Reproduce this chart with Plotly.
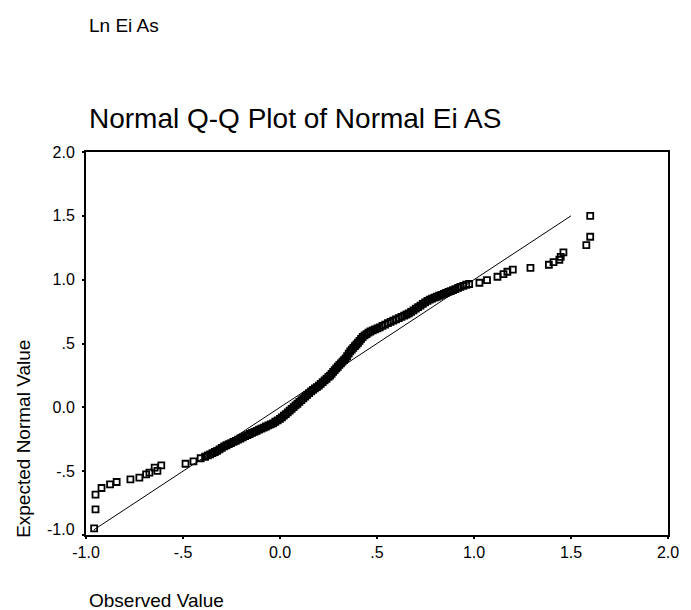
import plotly.graph_objects as go

obs_low = [-0.958, -0.951, -0.951, -0.920, -0.876, -0.842, -0.771, -0.725, -0.690, -0.673,
           -0.646, -0.632, -0.612, -0.487, -0.446, -0.409]
exp_low = [-0.948, -0.800, -0.684, -0.632, -0.603, -0.585, -0.564, -0.551, -0.525, -0.512,
           -0.473, -0.497, -0.454, -0.442, -0.423, -0.399]

obs_mid = [-0.386, -0.372, -0.360, -0.348, -0.336, -0.324, -0.312, -0.300, -0.288, -0.276,
           -0.264, -0.252, -0.240, -0.228, -0.216, -0.204, -0.192, -0.180, -0.168, -0.156,
           -0.144, -0.132, -0.120, -0.108, -0.096, -0.084, -0.072, -0.060, -0.048, -0.036,
           -0.024, -0.012,
           0.000, 0.010, 0.020, 0.030, 0.040, 0.050, 0.060, 0.070, 0.080, 0.090,
           0.100, 0.110, 0.120, 0.130, 0.140, 0.150, 0.160, 0.170, 0.180, 0.190,
           0.200, 0.210, 0.220, 0.230, 0.240, 0.250, 0.258, 0.266, 0.274, 0.282,
           0.290, 0.298, 0.306, 0.314, 0.322, 0.330, 0.338, 0.346, 0.354, 0.362,
           0.370, 0.378, 0.386, 0.394, 0.402, 0.410, 0.418, 0.426, 0.436, 0.446,
           0.456, 0.466, 0.478, 0.490, 0.502, 0.514, 0.528, 0.542, 0.556, 0.570,
           0.584, 0.598, 0.612, 0.626, 0.640, 0.652, 0.664, 0.676, 0.688, 0.700,
           0.712, 0.724, 0.736, 0.748, 0.760, 0.772, 0.784, 0.796, 0.808, 0.820,
           0.832, 0.844, 0.856, 0.868, 0.880, 0.892, 0.904, 0.918, 0.930, 0.945,
           0.960, 0.975]
exp_mid = [-0.387, -0.377, -0.368, -0.358, -0.350, -0.341, -0.330, -0.318, -0.306, -0.297,
           -0.288, -0.280, -0.271, -0.262, -0.253, -0.244, -0.235, -0.226, -0.217, -0.209,
           -0.200, -0.192, -0.184, -0.175, -0.167, -0.159, -0.150, -0.142, -0.134, -0.125,
           -0.113, -0.102,
           -0.090, -0.078, -0.065, -0.053, -0.040, -0.026, -0.012, 0.001, 0.015, 0.028,
           0.042, 0.056, 0.070, 0.084, 0.098, 0.111, 0.125, 0.136, 0.148, 0.159,
           0.170, 0.184, 0.197, 0.211, 0.224, 0.238, 0.248, 0.262, 0.277, 0.291,
           0.305, 0.318, 0.332, 0.345, 0.358, 0.370, 0.383, 0.400, 0.420, 0.438,
           0.452, 0.466, 0.479, 0.492, 0.506, 0.521, 0.536, 0.551, 0.563, 0.574,
           0.585, 0.594, 0.603, 0.611, 0.619, 0.627, 0.638, 0.648, 0.659, 0.669,
           0.679, 0.689, 0.699, 0.709, 0.718, 0.727, 0.736, 0.748, 0.760, 0.773,
           0.785, 0.797, 0.810, 0.822, 0.834, 0.844, 0.851, 0.859, 0.866, 0.874,
           0.881, 0.889, 0.896, 0.904, 0.911, 0.918, 0.926, 0.935, 0.943, 0.952,
           0.960, 0.966]

obs_high = [1.028, 1.067, 1.121, 1.152, 1.172, 1.200, 1.291, 1.386, 1.410, 1.440,
            1.447, 1.461, 1.579, 1.599, 1.599]
exp_high = [0.976, 0.997, 1.023, 1.044, 1.062, 1.078, 1.093, 1.117, 1.138, 1.156,
            1.179, 1.214, 1.271, 1.336, 1.500]

ref_line_x = [-0.96, 1.5]
ref_line_y = [-0.96, 1.5]

tick_vals = [-1.0, -0.5, 0.0, 0.5, 1.0, 1.5, 2.0]
x_tick_text = ["-1.0", "-.5", "0.0", ".5", "1.0", "1.5", "2.0"]
y_tick_text = ["", "-.5", "0.0", ".5", "1.0", "1.5", "2.0"]

FONT = "Liberation Sans, Arial, sans-serif"

obs = obs_low + obs_mid + obs_high
exp = exp_low + exp_mid + exp_high

fig = go.Figure()
fig.add_trace(go.Scatter(
    x=ref_line_x, y=ref_line_y, mode="lines",
    line=dict(color="black", width=1), showlegend=False, hoverinfo="skip"))
fig.add_trace(go.Scatter(
    x=obs, y=exp, mode="markers",
    marker=dict(symbol="square-open", size=6, color="black",
                line=dict(color="black", width=1.8)),
    showlegend=False))

W, H = 691, 610
L, R, T, B = 86, 676, 152, 535

def px_to_paper(px, py):
    return (px - L) / (R - L), (B - py) / (B - T)

annots = []
tx, ty = px_to_paper(87, 119)
annots.append(dict(text="Normal Q-Q Plot of Normal Ei AS", x=tx, y=ty, xref="paper", yref="paper",
                   xanchor="left", yanchor="middle", showarrow=False,
                   font=dict(family=FONT, size=28, color="black")))
tx, ty = px_to_paper(87, 25)
annots.append(dict(text="Ln Ei As", x=tx, y=ty, xref="paper", yref="paper",
                   xanchor="left", yanchor="middle", showarrow=False,
                   font=dict(family=FONT, size=19, color="black")))
tx, ty = px_to_paper(87, 600)
annots.append(dict(text="Observed Value", x=tx, y=ty, xref="paper", yref="paper",
                   xanchor="left", yanchor="middle", showarrow=False,
                   font=dict(family=FONT, size=19, color="black")))
tx, ty = px_to_paper(22, 540)
annots.append(dict(text="Expected Normal Value", x=tx, y=ty, xref="paper", yref="paper",
                   xanchor="center", yanchor="bottom", showarrow=False, textangle=-90,
                   font=dict(family=FONT, size=19, color="black")))
tx, ty = px_to_paper(77, 529)
annots.append(dict(text="-1.0", x=tx, y=ty, xref="paper", yref="paper",
                   xanchor="right", yanchor="middle", showarrow=False,
                   font=dict(family=FONT, size=16, color="black")))

fig.update_layout(
    width=W, height=H,
    margin=dict(l=L, r=W - R, t=T, b=H - B, pad=0),
    paper_bgcolor="white", plot_bgcolor="white",
    annotations=annots,
    font=dict(family=FONT, color="black"),
)
fig.update_xaxes(range=[-1.0, 2.0], tickvals=tick_vals, ticktext=x_tick_text,
                 showgrid=False, zeroline=False, showline=True, linecolor="black",
                 linewidth=1.5, mirror=True, ticks="outside", ticklen=2, tickwidth=2,
                 tickcolor="black", tickfont=dict(family=FONT, size=16, color="black"))
fig.update_yaxes(range=[-1.0, 2.0], tickvals=tick_vals, ticktext=y_tick_text,
                 showgrid=False, zeroline=False, showline=True, linecolor="black",
                 linewidth=2, mirror=True, ticks="outside", ticklen=2, tickwidth=2,
                 tickcolor="black", ticklabelstandoff=4,
                 tickfont=dict(family=FONT, size=16, color="black"))

fig.write_html("out.html")
